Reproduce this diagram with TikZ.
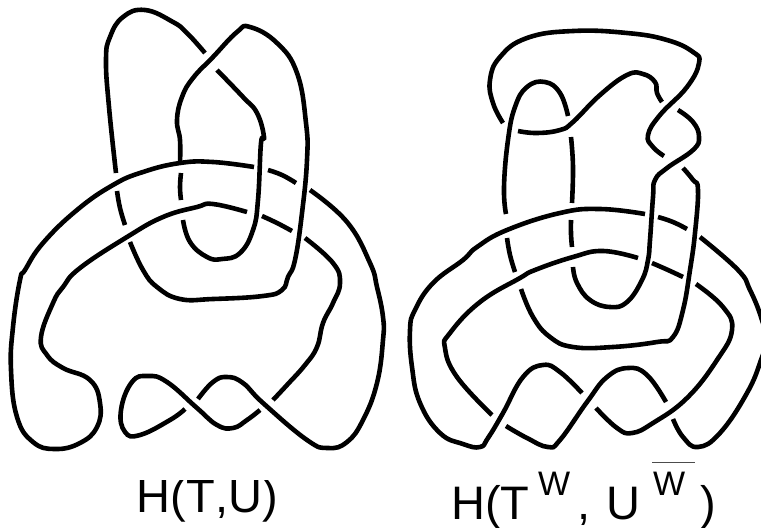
\documentclass[tikz,border=0pt]{standalone}
\usepackage{fontspec}
\setmainfont[Kerning=Off]{Liberation Sans}
\tikzset{
  strand/.style={draw=black,line width=4.6pt,line cap=butt,line join=round,smooth,tension=0.75},
  lab/.style={anchor=base west,inner sep=0pt,font=\fontsize{47}{47}\selectfont},
  suplab/.style={anchor=base west,inner sep=0pt,font=\fontsize{34}{34}\selectfont}
}
\begin{document}
\begin{tikzpicture}[x=1pt,y=-1pt]
\useasboundingbox (0,0) rectangle (761,531);
\clip (0,0) rectangle (761,531);
% left knot
\draw[strand] plot coordinates {(205,53)(187,33)(173,22)(145,10)(123,17)(110,37)(106,60)(109,107)(116,173)};
\draw[strand] plot coordinates {(117,191)(120,208)(125,225)};
\draw[strand] plot coordinates {(130,242)(143,270)(157,287)(180,299)(213,299)(263,296)(282,290)(288,277)(295,260)(302,213)(307,160)(306,123)(297,73)(277,43)(250,27)(237,32)(213,57)(193,78)(182,97)(177,120)(180,140)(180,163)};
\draw[strand] plot coordinates {(181,173)(180,187)(181,200)};
\draw[strand] plot coordinates {(183,220)(190,242)(207,257)(222,259)(240,253)(253,230)(258,200)(261,143)(264,137)(257,113)(243,97)(217,70)};
\draw[strand] plot coordinates {(254,167)(213,162)(180,163)(143,172)(113,185)(77,210)(43,243)(25,270)(20,280)(13,327)(11,370)(17,417)(33,442)(55,449)(80,443)(97,427)(100,403)(90,380)(63,368)(47,355)(41,337)(53,303)(63,287)(80,268)(127,237)(163,217)(197,207)(213,204)(247,212)};
\draw[strand] plot coordinates {(262,216)(277,223)(292,231)};
\draw[strand] plot coordinates {(305,238)(333,263)(340,283)(333,303)(323,323)(317,347)(305,365)(287,385)(273,400)};
\draw[strand] plot coordinates {(268,170)(282,175)(296,183)};
\draw[strand] plot coordinates {(310,190)(347,222)(370,263)(377,287)(383,317)(383,340)(377,383)(363,420)(347,442)(328,448)(307,440)(263,403)(243,383)(227,377)(213,382)(198,399)};
\draw[strand] plot coordinates {(260,410)(247,420)(233,428)(217,425)(197,408)(167,382)(148,376)(132,382)(121,410)(125,432)(140,435)(170,420)(185,409)};
% right knot
\draw[strand] plot coordinates {(503,123)(493,103)(490,80)(500,57)(527,38)(573,31)(627,33)(667,40)(693,52)(699,63)(687,87)(660,115)(648,135)(653,147)(664,156)};
\draw[strand] plot coordinates {(678,110)(693,122)(699,137)(693,150)(667,168)(655,180)(653,197)(650,240)(648,260)(642,280)(627,302)(610,307)(590,300)(577,283)(573,267)};
\draw[strand] plot coordinates {(571,220)(571,234)(572,247)};
\draw[strand] plot coordinates {(572,203)(573,167)(571,137)};
\draw[strand] plot coordinates {(568,116)(560,93)(545,82)(527,87)(515,107)(508,140)(504,187)(506,214)};
\draw[strand] plot coordinates {(507,238)(510,255)(515,272)};
\draw[strand] plot coordinates {(521,289)(533,317)(550,337)(573,347)(613,347)(657,342)(673,337)(683,310)(690,270)(695,233)(698,190)(693,180)(683,168)};
\draw[strand] plot coordinates {(518,131)(537,133)(560,130)(573,122)(600,95)(627,75)(643,74)(655,82)(657,93)(662,102)};
\draw[strand] plot coordinates {(645,214)(600,209)(560,213)(507,230)(477,247)(463,260)(433,283)(415,310)(410,330)(412,367)(420,403)(440,433)(463,444)(480,447)(488,438)(503,413)(523,377)(543,365)(560,372)(582,393)};
\draw[strand] plot coordinates {(638,258)(603,251)(573,257)(535,270)(520,278)(480,302)(450,333)(445,348)(457,377)(492,415)};
\draw[strand] plot coordinates {(506,426)(527,438)(548,447)(560,440)(587,402)(607,377)(628,368)(647,375)(666,402)};
\draw[strand] plot coordinates {(596,408)(617,428)(632,433)(653,423)(687,398)(717,360)(732,330)(723,307)(696,284)};
\draw[strand] plot coordinates {(652,263)(668,270)(683,277)};
\draw[strand] plot coordinates {(658,217)(673,222)(687,229)};
\draw[strand] plot coordinates {(700,237)(738,270)(750,290)(761,317)(766,340)(761,360)(747,393)(720,433)(698,447)(683,437)(673,419)};
% labels
\begin{scope}
\clip (130,480) rectangle (290,522);
\node[lab] (lblA) at (136.5,512) {H(T,U)};
\end{scope}
\begin{scope}
\clip (440,480) rectangle (730,527);
\node[lab] (lblB) at (451,519) {H(T};
\node[lab] (lblC) at (577,519) {,};
\node[lab] (lblD) at (606,519) {U};
\node[lab] (lblE) at (700,519) {)};
\end{scope}
\node[suplab] (supA) at (538,495) {W};
\node[suplab] (supB) at (653,495) {W};
\draw[line width=1pt,black!70] (652,462) -- (695,462);
\end{tikzpicture}
\end{document}
